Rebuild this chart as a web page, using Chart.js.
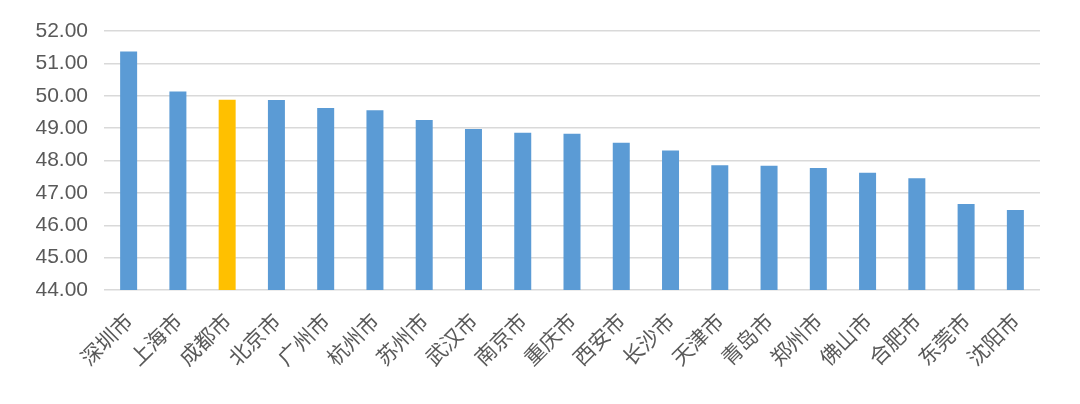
<!DOCTYPE html>
<html>
<head>
<meta charset="utf-8">
<script src="https://cdn.jsdelivr.net/npm/chart.js@4/dist/chart.umd.min.js"></script>
<style>
html,body{margin:0;padding:0;background:#fff;}
#wrap{width:1080px;height:404px;position:relative;}
</style>
</head>
<body>
<div id="wrap"><canvas id="c" width="1080" height="404"></canvas></div>
<script>
const categories = ["深圳市","上海市","成都市","北京市","广州市","杭州市","苏州市","武汉市","南京市","重庆市","西安市","长沙市","天津市","青岛市","郑州市","佛山市","合肥市","东莞市","沈阳市"];
const values = [51.37,50.13,49.88,49.87,49.62,49.55,49.25,48.97,48.86,48.83,48.55,48.31,47.85,47.84,47.77,47.62,47.45,46.66,46.47];
const highlightCity = "成都市";
const yTicks = [44,45,46,47,48,49,50,51,52];

const colors = categories.map(c => c === highlightCity ? "#FFC000" : "#5B9BD5");

new Chart(document.getElementById("c"), {
  type: "bar",
  data: {
    labels: categories,
    datasets: [{
      data: values,
      backgroundColor: colors,
      borderWidth: 0,
      barPercentage: 0.345,
      categoryPercentage: 1.0
    }]
  },
  options: {
    responsive: false,
    animation: false,
    layout: { padding: { left: 0, right: 40, top: 31, bottom: 0 } },
    plugins: { legend: { display: false }, tooltip: { enabled: false } },
    scales: {
      x: {
        grid: { display: false, drawTicks: false },
        border: { display: false },
        ticks: {
          color: "#595959",
          font: { family: "'Noto Sans CJK SC', sans-serif", size: 21 },
          maxRotation: 45, minRotation: 45,
          autoSkip: false,
          padding: 18
        },
        afterFit: s => { s.height = 114; }
      },
      y: {
        min: yTicks[0],
        max: yTicks[yTicks.length - 1],
        afterBuildTicks: s => { s.ticks = yTicks.map(v => ({ value: v })); },
        grid: { color: "#D9D9D9", lineWidth: 1.5, drawTicks: false },
        border: { display: false },
        ticks: {
          color: "#595959",
          font: { family: "'Liberation Sans', Arial, sans-serif", size: 21 },
          padding: 16,
          callback: v => Number(v).toFixed(2)
        },
        afterFit: s => { s.width = 104; }
      }
    }
  }
});
</script>
</body>
</html>
